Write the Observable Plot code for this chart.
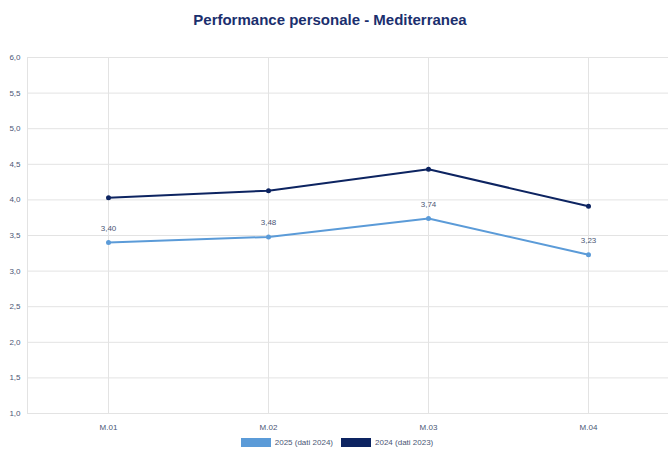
<!DOCTYPE html>
<html>
<head>
<meta charset="utf-8">
<script src="https://cdn.jsdelivr.net/npm/d3@7"></script>
<script src="https://cdn.jsdelivr.net/npm/@observablehq/plot@0.6"></script>
<style>
  body { margin: 0; background: #fff; font-family: "Liberation Sans", Arial, sans-serif; }
  #title { height: 40px; line-height: 40px; text-align: center; font-weight: bold; font-size: 15px; color: #1b2f6e; padding-right: 8px; }
  #legend { display: flex; justify-content: center; align-items: center; gap: 0; font-size: 8px; color: #4a5675; height: 15px; padding-left: 14px; }
  .sw { display: inline-block; width: 30px; height: 9px; margin-right: 4px; }
  .item { display: flex; align-items: center; margin-right: 8px; }
</style>
</head>
<body>
<div id="title">Performance personale - Mediterranea</div>
<div id="chart"></div>
<div id="legend"></div>
<script>
const categories = ["M.01", "M.02", "M.03", "M.04"];
const series2025 = [3.40, 3.48, 3.74, 3.23];
const series2024 = [4.03, 4.13, 4.43, 3.91];
const seriesNames = ["2025 (dati 2024)", "2024 (dati 2023)"];
const seriesColors = ["#5b9bd8", "#0d2461"];
const yTicks = [1.0, 1.5, 2.0, 2.5, 3.0, 3.5, 4.0, 4.5, 5.0, 5.5, 6.0];

const d2025 = categories.map((c, i) => ({cat: c, value: series2025[i]}));
const d2024 = categories.map((c, i) => ({cat: c, value: series2024[i]}));
const fmt1 = v => v.toFixed(1).replace(".", ",");
const fmt2 = v => v.toFixed(2).replace(".", ",");

const chart = Plot.plot({
  width: 668,
  height: 395,
  marginTop: 17,
  marginBottom: 22,
  marginLeft: 27,
  marginRight: 0,
  style: {fontFamily: "Liberation Sans, Arial, sans-serif", fontSize: "8px", color: "#4a5675"},
  x: {type: "point", domain: categories, padding: 0.5, label: null},
  y: {domain: [1, 6], label: null},
  marks: [
    Plot.gridY(yTicks, {stroke: "#e3e3e3", strokeOpacity: 1}),
    Plot.gridX(categories, {stroke: "#e3e3e3", strokeOpacity: 1}),
    Plot.frame({anchor: "left", stroke: "#e3e3e3"}),
    Plot.axisY(yTicks, {tickSize: 0, tickPadding: 7, tickFormat: fmt1, fill: "#4a5675"}),
    Plot.axisX(categories, {tickSize: 0, tickPadding: 11, fill: "#4a5675"}),
    Plot.line(d2025, {x: "cat", y: "value", stroke: seriesColors[0], strokeWidth: 2}),
    Plot.dot(d2025, {x: "cat", y: "value", fill: seriesColors[0], r: 2.5}),
    Plot.line(d2024, {x: "cat", y: "value", stroke: seriesColors[1], strokeWidth: 2}),
    Plot.dot(d2024, {x: "cat", y: "value", fill: seriesColors[1], r: 2.5}),
    Plot.text(d2025, {x: "cat", y: "value", text: d => fmt2(d.value), dy: -14, fill: "#4a5675", fontSize: 8})
  ]
});
document.getElementById("chart").appendChild(chart);

const legend = document.getElementById("legend");
seriesNames.forEach((n, i) => {
  const it = document.createElement("span");
  it.className = "item";
  it.innerHTML = `<span class="sw" style="background:${seriesColors[i]}"></span>${n}`;
  legend.appendChild(it);
});
</script>
</body>
</html>
